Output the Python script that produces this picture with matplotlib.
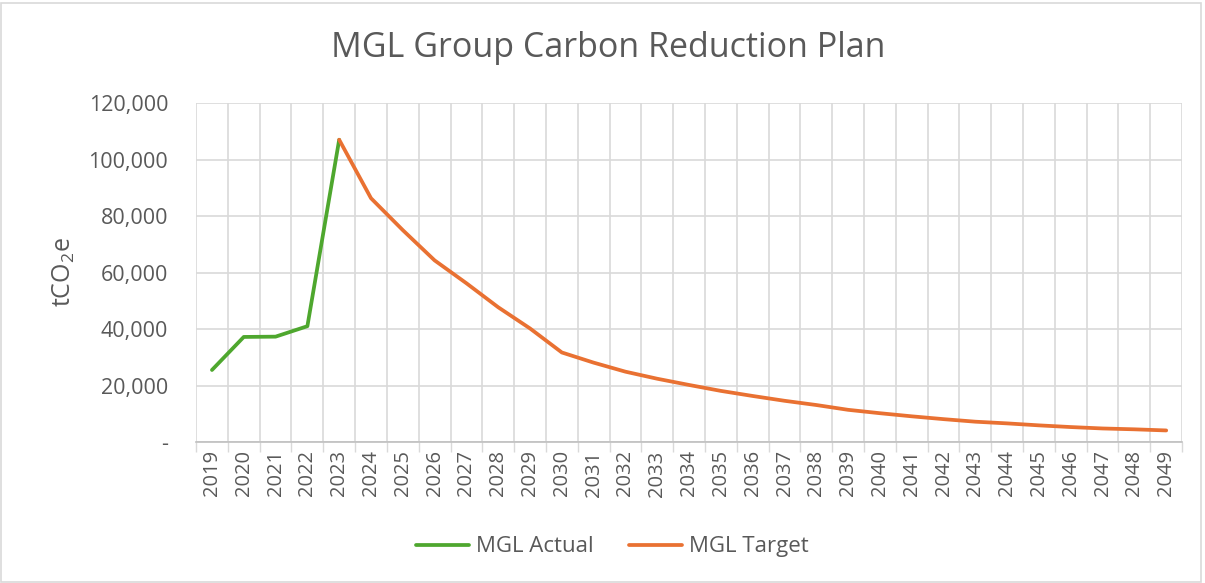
import numpy as np
import matplotlib.pyplot as plt
from matplotlib.ticker import FuncFormatter, FixedLocator
from matplotlib.patches import Rectangle

years = [str(y) for y in range(2019, 2050)]
actual_years = ['2019', '2020', '2021', '2022', '2023']
actual = [25500, 37200, 37300, 41000, 107000]
target_years = years[4:]
target = [107000, 86300, 75000, 64300, 56200, 47700, 40200, 31700, 28100, 24900,
          22400, 20200, 18100, 16300, 14600, 13100, 11400, 10200, 9100, 8100,
          7200, 6600, 5900, 5300, 4800, 4500, 4100]

green = '#4EA72E'
orange = '#E97132'
text_col = '#595959'
grid_col = '#D9D9D9'

plt.rcParams['font.family'] = ['Open Sans', 'DejaVu Sans']

fig = plt.figure(figsize=(12.05, 5.83), dpi=100)
ax = fig.add_axes([0.1627, 0.2418, 0.9810 - 0.1627, 0.8233 - 0.2418])

xa = [years.index(y) for y in actual_years]
xt = [years.index(y) for y in target_years]
ax.plot(xa, actual, color=green, lw=2.7, solid_capstyle='round', label='MGL Actual', zorder=3)
ax.plot(xt, target, color=orange, lw=2.7, solid_capstyle='round', label='MGL Target', zorder=3)

ax.set_xlim(-0.5, len(years) - 0.5)
ax.set_ylim(0, 120000)
ax.set_yticks(np.arange(0, 120001, 20000))
ax.yaxis.set_major_formatter(FuncFormatter(lambda v, p: '-' if v == 0 else f'{v:,.0f}'))

ax.set_xticks(range(len(years)))
ax.set_xticklabels(years, rotation=90)
ax.xaxis.set_minor_locator(FixedLocator(np.arange(-0.5, len(years), 1.0)))

ax.tick_params(axis='x', which='major', length=0, pad=6, labelsize=14.5, colors=text_col)
ax.tick_params(axis='x', which='minor', length=7, width=1, color=grid_col)
ax.tick_params(axis='y', length=0, pad=20, labelsize=15.5, colors=text_col)

ax.grid(True, which='minor', axis='x', color=grid_col, lw=1.2)
ax.grid(True, which='major', axis='y', color=grid_col, lw=1.2)
ax.set_axisbelow(True)

for s in ['top', 'right', 'left']:
    ax.spines[s].set_visible(False)
ax.spines['bottom'].set_color('#BFBFBF')
ax.spines['bottom'].set_linewidth(1.2)

ax.set_ylabel('tCO$_\\mathregular{2}$e', fontsize=18, color=text_col, labelpad=8)

fig.text(0.505, 0.918, 'MGL Group Carbon Reduction Plan', ha='center', va='center',
         fontsize=24.5, color=text_col)

fig.legend(loc='center', bbox_to_anchor=(0.508, 0.062), ncol=2, frameon=False,
           fontsize=16, labelcolor=text_col, handlelength=2.4, columnspacing=1.6,
           handletextpad=0.3)

fig.patches.append(Rectangle((0.001, 0.001), 0.996, 0.993, transform=fig.transFigure,
                             fill=False, edgecolor=grid_col, lw=1.2))

fig.savefig('out.png', dpi=100)
